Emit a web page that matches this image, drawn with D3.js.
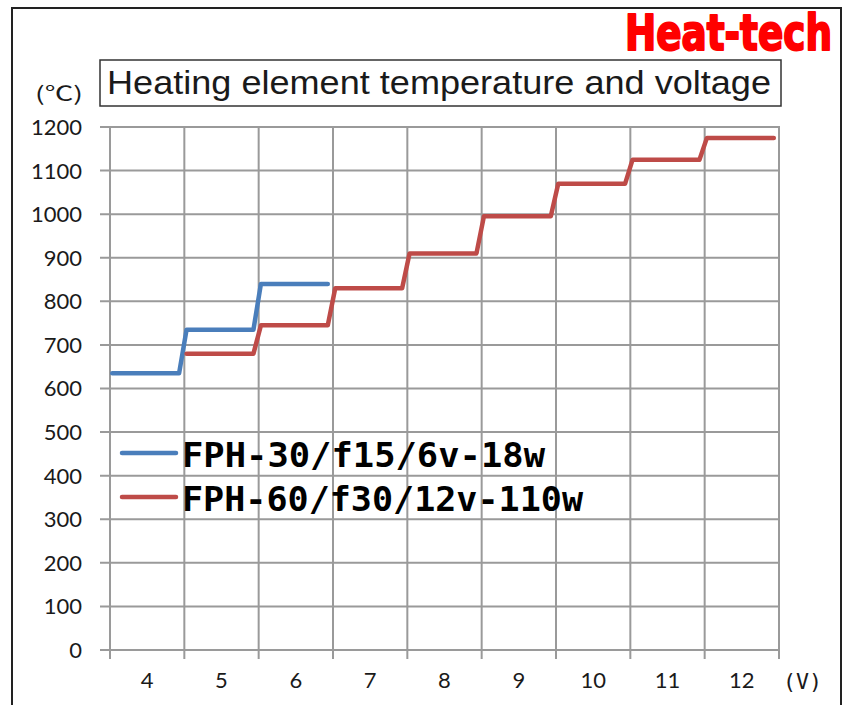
<!DOCTYPE html>
<html>
<head>
<meta charset="utf-8">
<script src="https://cdn.jsdelivr.net/npm/d3@7"></script>
<style>
  html, body { margin: 0; padding: 0; background: #fff; }
  svg { display: block; }
</style>
</head>
<body>
<svg id="chart" width="844" height="705"></svg>
<script>
// ---- data ----
const categories = ["4", "5", "6", "7", "8", "9", "10", "11", "12"];
const yTicks = [0, 100, 200, 300, 400, 500, 600, 700, 800, 900, 1000, 1100, 1200];
const seriesNames = ["FPH-30/f15/6v-18w", "FPH-60/f30/12v-110w"];
const fph30Volts = ["4", "5", "6"];
const fph30Temps = [635, 735, 840];
const fph60Volts = ["5", "6", "7", "8", "9", "10", "11", "12"];
const fph60Temps = [680, 745, 830, 910, 995, 1070, 1125, 1175];
const seriesColors = ["#4A7EBB", "#BE4B48"];

// ---- layout ----
const svg = d3.select("#chart");
const plot = { left: 110, right: 779, top: 127, bottom: 650 };

const x = d3.scaleBand().domain(categories).range([plot.left, plot.right]).padding(0);
const y = d3.scaleLinear().domain([0, 1200]).range([plot.bottom, plot.top]);
const bw = x.bandwidth();

// outer frame
svg.append("rect")
  .attr("x", 12).attr("y", 8).attr("width", 829).attr("height", 705)
  .attr("fill", "#fff").attr("stroke", "#222").attr("stroke-width", 2);

// grid: horizontal
const gridColor = "#9a9a9a";
svg.append("g").selectAll("line").data(yTicks).join("line")
  .attr("x1", plot.left - 10).attr("x2", plot.right + 1)
  .attr("y1", d => y(d)).attr("y2", d => y(d))
  .attr("stroke", gridColor).attr("stroke-width", 2);

// grid: vertical (category boundaries)
const boundaries = categories.map(c => x(c)).concat([x(categories[categories.length - 1]) + bw]);
svg.append("g").selectAll("line").data(boundaries).join("line")
  .attr("x1", d => d).attr("x2", d => d)
  .attr("y1", plot.top).attr("y2", plot.bottom + 9)
  .attr("stroke", gridColor).attr("stroke-width", 2);

// y tick labels
svg.append("g").selectAll("text").data(yTicks).join("text")
  .attr("x", 82).attr("y", d => y(d))
  .attr("dy", "0.36em")
  .attr("text-anchor", "end")
  .attr("font-family", "Lato, 'Liberation Sans', sans-serif")
  .attr("font-size", 22)
  .attr("fill", "#1a1a1a")
  .text(d => d);

// x tick labels
svg.append("g").selectAll("text").data(categories).join("text")
  .attr("x", d => x(d) + bw / 2).attr("y", 688)
  .attr("text-anchor", "middle")
  .attr("font-family", "Lato, 'Liberation Sans', sans-serif")
  .attr("font-size", 22)
  .attr("fill", "#1a1a1a")
  .text(d => d);

// axis units
svg.append("text")
  .attr("x", 783).attr("y", 689)
  .attr("font-family", "'DejaVu Sans Mono', monospace")
  .attr("font-size", 22)
  .attr("textLength", 39).attr("lengthAdjust", "spacingAndGlyphs")
  .attr("fill", "#1a1a1a")
  .text("(V)");

svg.append("text")
  .attr("x", 35).attr("y", 101)
  .attr("font-family", "'Noto Sans CJK JP', 'DejaVu Sans', sans-serif")
  .attr("font-size", 20)
  .attr("textLength", 48).attr("lengthAdjust", "spacingAndGlyphs")
  .attr("fill", "#1a1a1a")
  .text("(℃)");

// title box
svg.append("rect")
  .attr("x", 100).attr("y", 60).attr("width", 681).attr("height", 46)
  .attr("fill", "#fff").attr("stroke", "#333").attr("stroke-width", 1.5);
svg.append("text")
  .attr("x", 107).attr("y", 94)
  .attr("font-family", "'Liberation Sans', Arial, sans-serif")
  .attr("font-size", 34)
  .attr("textLength", 664).attr("lengthAdjust", "spacingAndGlyphs")
  .attr("fill", "#1a1a1a")
  .text("Heating element temperature and voltage");

// brand
svg.append("text")
  .attr("x", 625).attr("y", 50)
  .attr("font-family", "'Liberation Sans Narrow', 'DejaVu Sans Condensed', sans-serif")
  .attr("font-weight", "bold")
  .attr("font-size", 50)
  .attr("textLength", 207).attr("lengthAdjust", "spacingAndGlyphs")
  .attr("fill", "#ff0000").attr("stroke", "#ff0000").attr("stroke-width", 2)
  .attr("stroke-linejoin", "round")
  .text("Heat-tech");

// step lines
function stepPoints(volts, temps) {
  const pts = [];
  volts.forEach((v, i) => {
    pts.push([x(v) + bw * 0.03, y(temps[i])]);
    pts.push([x(v) + bw * 0.93, y(temps[i])]);
  });
  return pts;
}
const line = d3.line();
const series = [
  { pts: stepPoints(fph30Volts, fph30Temps), color: seriesColors[0] },
  { pts: stepPoints(fph60Volts, fph60Temps), color: seriesColors[1] }
];
svg.append("g").selectAll("path").data(series).join("path")
  .attr("d", d => line(d.pts))
  .attr("fill", "none")
  .attr("stroke", d => d.color)
  .attr("stroke-width", 4.5)
  .attr("stroke-linejoin", "round")
  .attr("stroke-linecap", "round");

// legend
const legendY = [453, 497];
const legendTextW = [363, 401];
const lg = svg.append("g");
seriesNames.forEach((name, i) => {
  lg.append("line")
    .attr("x1", 122).attr("x2", 176)
    .attr("y1", legendY[i]).attr("y2", legendY[i])
    .attr("stroke", seriesColors[i]).attr("stroke-width", 4.5)
    .attr("stroke-linecap", "round");
  lg.append("text")
    .attr("x", 182).attr("y", legendY[i] + 14)
    .attr("font-family", "'DejaVu Sans Mono', monospace")
    .attr("font-weight", "bold")
    .attr("font-size", 34)
    .attr("textLength", legendTextW[i]).attr("lengthAdjust", "spacingAndGlyphs")
    .attr("fill", "#000")
    .text(name);
});
</script>
</body>
</html>
